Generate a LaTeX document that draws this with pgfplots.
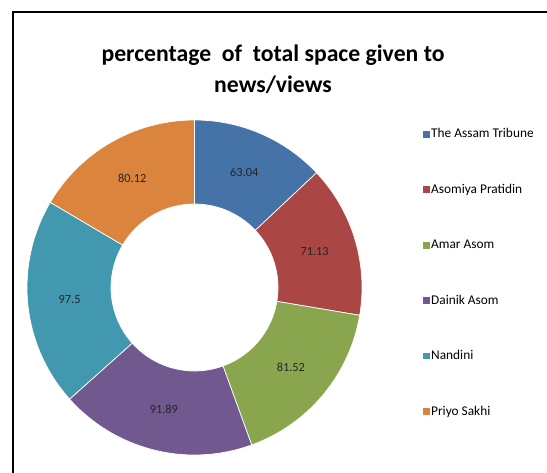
\documentclass[border=0pt]{standalone}
\usepackage{fontspec}
\setmainfont{Carlito}
\usepackage{pgfplots}
\pgfplotsset{compat=1.18}
\definecolor{cA}{HTML}{4572A7}
\definecolor{cB}{HTML}{AA4643}
\definecolor{cC}{HTML}{89A54E}
\definecolor{cD}{HTML}{71588F}
\definecolor{cE}{HTML}{4198AF}
\definecolor{cF}{HTML}{DB843D}
% values
\def\vA{63.04}\def\vB{71.13}\def\vC{81.52}\def\vD{91.89}\def\vE{97.5}\def\vF{80.12}
\pgfmathsetmacro\tot{\vA+\vB+\vC+\vD+\vE+\vF}
\pgfmathsetmacro\bA{90}
\pgfmathsetmacro\bB{\bA-360*(\vA/\tot)}
\pgfmathsetmacro\bC{\bB-360*(\vB/\tot)}
\pgfmathsetmacro\bD{\bC-360*(\vC/\tot)}
\pgfmathsetmacro\bE{\bD-360*(\vD/\tot)}
\pgfmathsetmacro\bF{\bE-360*(\vE/\tot)}
\pgfmathsetmacro\bG{\bF-360*(\vF/\tot)}
\def\cx{194.5}\def\cy{185.5}\def\Ro{167.5}\def\Ri{83.5}\def\Rm{125.5}
\newcommand\mkpos[4]{%
  \pgfmathsetmacro#3{\cx+\Rm*cos((#1+#2)/2)}%
  \pgfmathsetmacro#4{\cy+\Rm*sin((#1+#2)/2)}}
\mkpos{\bA}{\bB}{\xA}{\yA}
\mkpos{\bB}{\bC}{\xB}{\yB}
\mkpos{\bC}{\bD}{\xC}{\yC}
\mkpos{\bD}{\bE}{\xD}{\yD}
\mkpos{\bE}{\bF}{\xE}{\yE}
\mkpos{\bF}{\bG}{\xF}{\yF}
\newcommand\ring[3]{%
  \addplot[fill=#3, draw=white, line width=0.7pt, variable=\t,
    samples at={0,0.025,...,1,1.0001,1.025,1.05,...,2,2}]
    ({\cx+((\t<=1)?\Ro:\Ri)*cos(#1+(#2-#1)*(1-abs(1-\t)))},
     {\cy+((\t<=1)?\Ro:\Ri)*sin(#1+(#2-#1)*(1-abs(1-\t)))}) -- cycle;}
\begin{document}%
\begin{tikzpicture}
\begin{axis}[width=547bp,height=473bp,scale only axis,at={(0,0)},anchor=south west,
  xmin=0,xmax=547,ymin=0,ymax=473,hide axis,clip=false,xtick=\empty,ytick=\empty,
  legend image code/.code={\fill[#1,draw=none] (0pt,-3.5pt) rectangle (7pt,3.5pt);},
  legend style={at={(axis cs:420,347.5)},anchor=north west,draw=none,fill=none,
    row sep=42.9bp,font=\fontsize{13.4}{14.5}\selectfont,
    nodes={inner sep=1pt,anchor=west}},
  legend cell align=left]
\ring{\bA}{\bB}{cA}
\ring{\bB}{\bC}{cB}
\ring{\bC}{\bD}{cC}
\ring{\bD}{\bE}{cD}
\ring{\bE}{\bF}{cE}
\ring{\bF}{\bG}{cF}
\legend{The Assam Tribune,Asomiya Pratidin,Amar Asom,Dainik Asom,Nandini,Priyo Sakhi}
\node[font=\fontsize{12.4}{13}\selectfont, text=black!85] at (axis cs:\xA,\yA) {63.04};
\node[font=\fontsize{12.4}{13}\selectfont, text=black!85] at (axis cs:\xB,\yB) {71.13};
\node[font=\fontsize{12.4}{13}\selectfont, text=black!85] at (axis cs:\xC,\yC) {81.52};
\node[font=\fontsize{12.4}{13}\selectfont, text=black!85] at (axis cs:\xD,\yD) {91.89};
\node[font=\fontsize{12.4}{13}\selectfont, text=black!85] at (axis cs:\xE,\yE) {97.5};
\node[font=\fontsize{12.4}{13}\selectfont, text=black!85] at (axis cs:\xF,\yF) {80.12};
\draw[line width=2bp] (axis cs:13,0) -- (axis cs:13,460.5) -- (axis cs:547,460.5);
\node[font=\bfseries\fontsize{23.8}{25}\selectfont] at (axis cs:273,418) {percentage\ \ of\ \ total space given to};
\node[font=\bfseries\fontsize{23.8}{25}\selectfont] at (axis cs:273,388) {news/views};
\end{axis}
\pgfresetboundingbox
\path (0,0) rectangle (547bp,473bp);
\end{tikzpicture}%
\end{document}
